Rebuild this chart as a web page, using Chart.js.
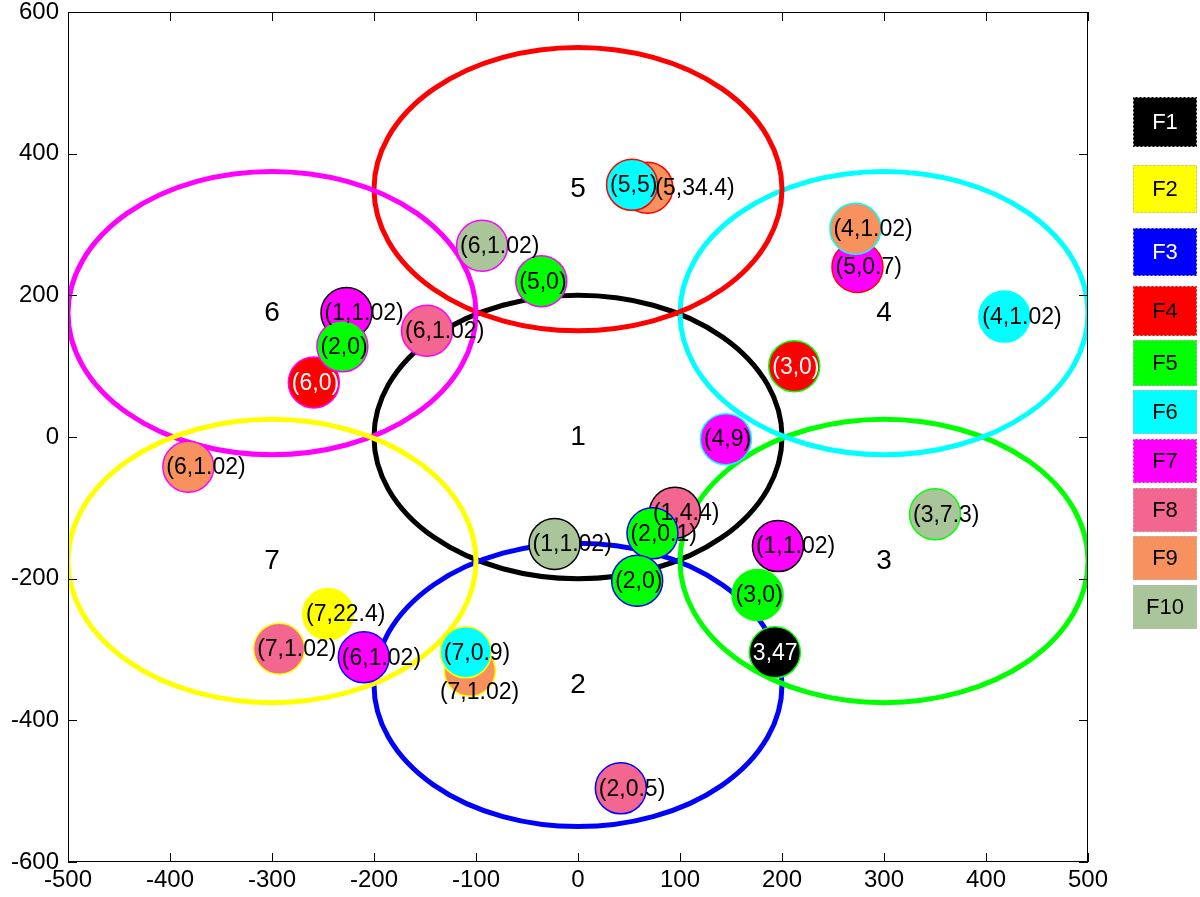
<!DOCTYPE html>
<html>
<head>
<meta charset="utf-8">
<script src="https://cdn.jsdelivr.net/npm/chart.js@4.4.1/dist/chart.umd.min.js"></script>
<style>
	html, body { margin: 0; padding: 0; background: #ffffff; }
</style>
</head>
<body>
<canvas id="Cell_Plot" width="1200" height="897"></canvas>
<script>

// Cells: centre (x, y) and radius, all in plot units
const cell_names = ['1', '2', '3', '4', '5', '6', '7'];
const cell_x = [0, 0, 300, 300, 0, -300, -300];
const cell_y = [0, -350, -175, 175, 350, 175, -175];
const cell_radius = 200;

// Users: [x, y, label, cell it sits in]
const F1_points = [[193, -304, '3,47', 3]];
const F2_points = [[-245, -250, '(7,22.4)', 7]];
const F3_points = [];
const F4_points = [[212, 100, '(3,0)', 3], [-259, 77, '(6,0)', 6]];
const F5_points = [[-36, 220, '(5,0)', 6], [-231, 128, '(2,0)', 6], [73, -136, '(2,0.1)', 2], [58, -203, '(2,0)', 2], [176, -223, '(3,0)', 3]];
const F6_points = [[53, 356, '(5,5)', 5], [418, 170, '(4,1.02)', 4], [-110, -304, '(7,0.9)', 7]];
const F7_points = [[274, 240, '(5,0.7)', 5], [145, -3, '(4,9)', 4], [-227, 175, '(1,1.02)', 1], [196, -154, '(1,1.02)', 1], [-210, -311, '(6,1.02)', 2]];
const F8_points = [[-148, 150, '(6,1.02)', 6], [95, -107, '(1,4.4)', 1], [-293, -299, '(7,1.02)', 7], [42, -496, '(2,0.5)', 2]];
const F9_points = [[68, 352, '(5,34.4)', 5], [272, 294, '(4,1.02)', 4], [-382, -42, '(6,1.02)', 6], [-106, -330, '(7,1.02)', 7]];
const F10_points = [[-94, 270, '(6,1.02)', 6], [350, -109, '(3,7.3)', 3], [-23, -151, '(1,1.02)', 1]];

const f_names = ['F1', 'F2', 'F3', 'F4', 'F5', 'F6', 'F7', 'F8', 'F9', 'F10'];
const f_points = [F1_points, F2_points, F3_points, F4_points, F5_points, F6_points, F7_points, F8_points, F9_points, F10_points];

const x_ticks = [-500, -400, -300, -200, -100, 0, 100, 200, 300, 400, 500];
const y_ticks = [-600, -400, -200, 0, 200, 400, 600];


// Styles
const cell_colors = ['#000000', '#0000ff', '#00ff00', '#00ffff', '#ff0000', '#ff00ff', '#ffff00'];
const f_colors = ['#000000', '#ffff00', '#0000ff', '#ff0000', '#00ff00', '#00ffff', '#ff00ff', '#f2668f', '#f7925f', '#abc59a'];
const point_text_colors = ['#ffffff', '#000000', '#ffffff', '#ffffff', '#000000', '#000000', '#000000', '#000000', '#000000', '#000000'];
const legend_text_colors = ['#ffffff', '#000000', '#ffffff', '#000000', '#000000', '#000000', '#000000', '#000000', '#000000', '#000000'];
const f_draw_order = [0, 6, 9, 7, 1, 2, 4, 5, 3, 8];	// lower = drawn on top
const FONT = '"Liberation Sans", Arial, sans-serif';

// labels that sit off the usual spot (pixels)
const label_nudge = { 'F9-0': [30, 0], 'F9-3': [-8, 21] };

// legend box rows (pixels)
const legend_centres = [122, 189, 252, 311, 363, 412, 461, 510, 558, 607];
const legend_heights = [50, 48, 48, 50, 46, 44, 44, 44, 44, 44];


Chart.defaults.font.family = FONT;
Chart.defaults.font.size = 24;
Chart.defaults.color = '#000000';


var cell_plugin = {
	id: 'cells',
	beforeDatasetsDraw(chart) {
		const ctx = chart.ctx;
		const xs = chart.scales.x, ys = chart.scales.y;
		const area = chart.chartArea;
		ctx.save();
		ctx.beginPath();
		ctx.rect(area.left, area.top, area.right - area.left, area.bottom - area.top);
		ctx.clip();
		ctx.lineWidth = 5;
		for (var i = 0; i < cell_names.length; i++) {
			var cx = xs.getPixelForValue(cell_x[i]);
			var cy = ys.getPixelForValue(cell_y[i]);
			var rx = Math.abs(xs.getPixelForValue(cell_x[i] + cell_radius) - cx);
			var ry = Math.abs(ys.getPixelForValue(cell_y[i] + cell_radius) - cy);
			ctx.strokeStyle = cell_colors[i];
			ctx.beginPath();
			ctx.ellipse(cx, cy, rx, ry, 0, 0, 2 * Math.PI);
			ctx.stroke();
		}
		// cell numbers
		ctx.fillStyle = '#000000';
		ctx.font = '28px ' + FONT;
		ctx.textAlign = 'center';
		ctx.textBaseline = 'middle';
		for (var i = 0; i < cell_names.length; i++) {
			ctx.fillText(cell_names[i], xs.getPixelForValue(cell_x[i]), ys.getPixelForValue(cell_y[i]));
		}
		ctx.restore();
	},
	afterDatasetsDraw(chart) {
		// point labels
		const ctx = chart.ctx;
		ctx.save();
		ctx.font = '23px ' + FONT;
		ctx.textAlign = 'left';
		ctx.textBaseline = 'middle';
		chart.data.datasets.forEach(function(ds, d) {
			var meta = chart.getDatasetMeta(d);
			meta.data.forEach(function(pt, i) {
				var nudge = label_nudge[ds.label + '-' + i] || [0, 0];
				ctx.fillStyle = point_text_colors[d];
				ctx.fillText(ds.data[i].label, pt.x - 22 + nudge[0], pt.y + 1 + nudge[1]);
			});
		});
		ctx.restore();
	},
	afterDraw(chart) {
		const ctx = chart.ctx;
		const xs = chart.scales.x, ys = chart.scales.y;
		const a = chart.chartArea;
		ctx.save();
		// frame and inward ticks
		ctx.strokeStyle = '#000000';
		ctx.lineWidth = 1;
		ctx.strokeRect(Math.round(a.left) + 0.5, Math.round(a.top) + 0.5, Math.round(a.right - a.left) - 1, Math.round(a.bottom - a.top) - 1);
		ctx.beginPath();
		x_ticks.forEach(function(v) {
			var px = Math.round(xs.getPixelForValue(v)) + 0.5;
			ctx.moveTo(px, a.bottom); ctx.lineTo(px, a.bottom - 9);
			ctx.moveTo(px, a.top); ctx.lineTo(px, a.top + 9);
		});
		y_ticks.forEach(function(v) {
			var py = Math.round(ys.getPixelForValue(v)) + 0.5;
			ctx.moveTo(a.left, py); ctx.lineTo(a.left + 9, py);
			ctx.moveTo(a.right, py); ctx.lineTo(a.right - 9, py);
		});
		ctx.stroke();

		// legend boxes
		ctx.font = '22px ' + FONT;
		ctx.textAlign = 'center';
		ctx.textBaseline = 'middle';
		for (var i = 0; i < f_names.length; i++) {
			var top = legend_centres[i] - legend_heights[i] / 2;
			ctx.fillStyle = f_colors[i];
			ctx.fillRect(1133, top, 64, legend_heights[i]);
			ctx.setLineDash([2, 2]);
			ctx.strokeStyle = '#bbbbbb';
			ctx.strokeRect(1133.5, top + 0.5, 63, legend_heights[i] - 1);
			ctx.setLineDash([]);
			ctx.fillStyle = legend_text_colors[i];
			ctx.fillText(f_names[i], 1165, legend_centres[i] + 1);
		}
		ctx.restore();
	}
};


var cell_datasets = f_names.map(function(name, i) {
	return {
		label: name,
		data: f_points[i].map(function(p) { return { x: p[0], y: p[1], label: p[2], cell: p[3] }; }),
		order: f_draw_order[i],
		pointRadius: 25.5,
		pointHoverRadius: 25.5,
		pointBorderWidth: 1.5,
		pointBackgroundColor: f_colors[i],
		pointBorderColor: function(c) { return c.raw ? cell_colors[c.raw.cell - 1] : '#000'; },
		showLine: false
	};
});


var Cell_Plot_Obj = new Chart(document.getElementById('Cell_Plot').getContext('2d'), {
	type: 'scatter',
	data: { datasets: cell_datasets },
	options: {
		responsive: false,
		animation: false,
		devicePixelRatio: 1,
		layout: { autoPadding: false, padding: { top: 12, right: 112, left: 0, bottom: 0 } },
		plugins: {
			legend: { display: false },
			tooltip: { enabled: false }
		},
		scales: {
			x: {
				type: 'linear',
				min: -500,
				max: 500,
				afterBuildTicks: function(s) { s.ticks = x_ticks.map(function(v) { return { value: v }; }); },
				afterFit: function(s) { s.height = 35; s.paddingLeft = 0; s.paddingRight = 0; },
				ticks: { padding: 4, maxRotation: 0, autoSkip: false, color: '#000000', font: { size: 24 } },
				grid: { display: false, drawTicks: false },
				border: { display: false }
			},
			y: {
				type: 'linear',
				min: -600,
				max: 600,
				afterBuildTicks: function(s) { s.ticks = y_ticks.map(function(v) { return { value: v }; }); },
				afterFit: function(s) { s.width = 68; s.paddingTop = 0; s.paddingBottom = 0; },
				ticks: { padding: 9, autoSkip: false, color: '#000000', font: { size: 24 } },
				grid: { display: false, drawTicks: false },
				border: { display: false }
			}
		},
		events: []
	},
	plugins: [cell_plugin]
});

</script>
</body>
</html>
